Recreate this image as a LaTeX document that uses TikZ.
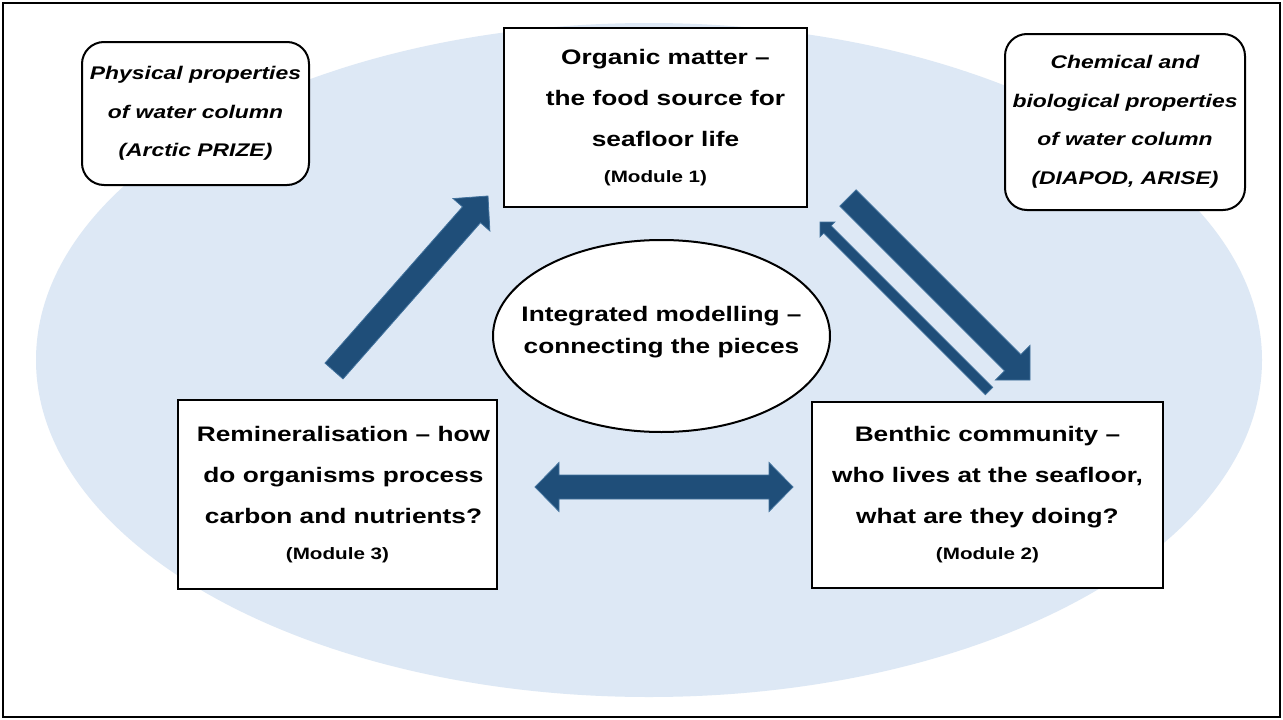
\documentclass[tikz,border=0pt]{standalone}
\usepackage{fontspec}
\setmainfont{Liberation Sans}[FakeStretch=1.25]
\usetikzlibrary{calc}
\definecolor{bgblue}{RGB}{221,232,245}
\definecolor{arrowfill}{RGB}{31,78,121}
\definecolor{arrowline}{RGB}{65,113,156}
\newcommand\mainfnt{\fontsize{21}{41}\selectfont\bfseries}
\newcommand\modfnt{\fontsize{16.5}{20}\selectfont\bfseries}
\newcommand\itfnt{\fontsize{18.3}{38.5}\selectfont\bfseries\itshape}
\newcommand\ellfnt{\fontsize{21}{32}\selectfont\bfseries}
\tikzset{
  box/.style={draw=black, line width=2pt, fill=white, align=center, font=\mainfnt, inner sep=0pt},
  rbox/.style={box, rounded corners=22pt, font=\itfnt},
  blockarr/.style={fill=arrowfill, draw=arrowline, line width=0.8pt, line join=miter},
}
% single block arrow: from, to, shaft width, head width, head length
\newcommand\blockarrow[5]{%
  \pgfmathanglebetweenpoints{\pgfpointanchor{#1}{center}}{\pgfpointanchor{#2}{center}}%
  \let\baang\pgfmathresult
  \pgfpointdiff{\pgfpointanchor{#1}{center}}{\pgfpointanchor{#2}{center}}%
  \pgfgetlastxy{\bax}{\bay}%
  \pgfmathsetmacro\balen{veclen(\bax,\bay)}%
  \filldraw[blockarr, shift={(#1)}, rotate=\baang]
    (0,{#3/2}) -- ({\balen-#5},{#3/2}) -- ({\balen-#5},{#4/2}) -- (\balen,0)
    -- ({\balen-#5},{-#4/2}) -- ({\balen-#5},{-#3/2}) -- (0,{-#3/2}) -- cycle;%
}
% double block arrow
\newcommand\dblblockarrow[5]{%
  \pgfmathanglebetweenpoints{\pgfpointanchor{#1}{center}}{\pgfpointanchor{#2}{center}}%
  \let\baang\pgfmathresult
  \pgfpointdiff{\pgfpointanchor{#1}{center}}{\pgfpointanchor{#2}{center}}%
  \pgfgetlastxy{\bax}{\bay}%
  \pgfmathsetmacro\balen{veclen(\bax,\bay)}%
  \filldraw[blockarr, shift={(#1)}, rotate=\baang]
    (0,0) -- (#5,{#4/2}) -- (#5,{#3/2}) -- ({\balen-#5},{#3/2}) -- ({\balen-#5},{#4/2})
    -- (\balen,0) -- ({\balen-#5},{-#4/2}) -- ({\balen-#5},{-#3/2})
    -- (#5,{-#3/2}) -- (#5,{-#4/2}) -- cycle;%
}
\begin{document}
\begin{tikzpicture}[x=1pt,y=-1pt]
\useasboundingbox (0,0) rectangle (1283,720);
\fill[white] (0,0) rectangle (1283,720);
% background ellipse
\fill[bgblue] (649,360) ellipse [x radius=613, y radius=337];
% outer frame
\draw[line width=2pt] (3,3) rectangle (1280,717);

% top boxes
\node[box, minimum width=303pt, minimum height=179pt] (om) at (655.5,117.5)
  {\hspace*{20pt}Organic matter –\\ \hspace*{20pt}the food source for\\ \hspace*{20pt}seafloor life\\[-5pt] {\modfnt (Module 1)}};
\node[rbox, minimum width=227pt, minimum height=143pt] (pp) at (195.5,113.5)
  {Physical properties\\ of water column\\ (Arctic PRIZE)};
\node[rbox, minimum width=240pt, minimum height=176pt] (cb) at (1125,122)
  {Chemical and\\ biological properties\\ of water column\\ (DIAPOD, ARISE)};

% central ellipse
\coordinate (imc) at (661.5,336);
\filldraw[draw=black, fill=white, line width=2pt] (imc) ellipse [x radius=168.5, y radius=96];
\node[align=center, font=\ellfnt, inner sep=0pt] (im) at (661.5,332)
  {Integrated modelling –\\ connecting the pieces};

% bottom boxes
\node[box, minimum width=319pt, minimum height=189pt] (rm) at (337.5,494.5)
  {\hspace*{12pt}Remineralisation – how\\ \hspace*{12pt}do organisms process\\ \hspace*{12pt}carbon and nutrients?\\[-5pt] {\modfnt (Module 3)}};
\node[box, minimum width=351pt, minimum height=186pt] (bc) at (987.5,494.5)
  {Benthic community –\\ who lives at the seafloor,\\ what are they doing?\\[-5pt] {\modfnt (Module 2)}};

% arrow end points
\coordinate (a1s) at (334,371);  \coordinate (a1e) at (488,196);
\coordinate (a2s) at (848,198);  \coordinate (a2e) at (1030,380);
\coordinate (a3s) at (989,391);  \coordinate (a3e) at (820,222);
\coordinate (a4s) at (535,487);  \coordinate (a4e) at (793,487);

\blockarrow{a1s}{a1e}{24}{49}{25}
\blockarrow{a2s}{a2e}{23}{49}{24.5}
\blockarrow{a3s}{a3e}{10.5}{21}{10.5}
\dblblockarrow{a4s}{a4e}{24}{49}{24}
\end{tikzpicture}
\end{document}
